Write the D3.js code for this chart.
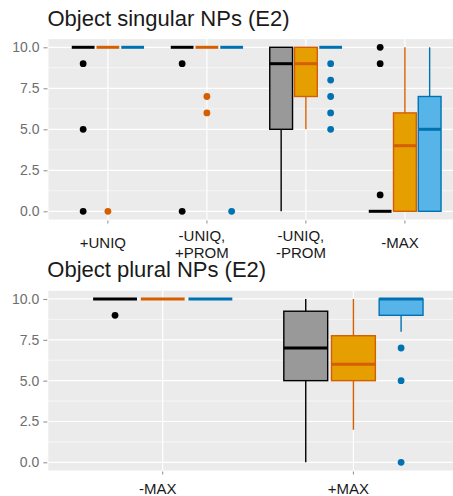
<!DOCTYPE html>
<html>
<head>
<meta charset="utf-8">
<script src="https://cdn.jsdelivr.net/npm/d3@7"></script>
<style>
  body { margin: 0; background: #fff; }
  svg { display: block; font-family: "Liberation Sans", Arial, sans-serif; }
</style>
</head>
<body>
<div id="chart"></div>
<script>
// *** Object NP boxplots (E2) ***

// three series dodged inside every category (no legend in the figure)
const seriesFill = ["#999999", "#E69F00", "#56B4E9"];
const seriesLine = ["#000000", "#D55E00", "#0072B2"];

const yTicks = [0, 2.5, 5, 7.5, 10];
const yMinor = [1.25, 3.75, 6.25, 8.75];

// top panel
const singularCats = ["+UNIQ", "-UNIQ,|+PROM", "-UNIQ,|-PROM", "-MAX"];
// [category, series, lower whisker, q1, median, q3, upper whisker]
const singularBoxes = [
    [0, 0, 10, 10, 10, 10, 10],
    [0, 1, 10, 10, 10, 10, 10],
    [0, 2, 10, 10, 10, 10, 10],
    [1, 0, 10, 10, 10, 10, 10],
    [1, 1, 10, 10, 10, 10, 10],
    [1, 2, 10, 10, 10, 10, 10],
    [2, 0, 0, 5, 9, 10, 10],
    [2, 1, 5, 7, 9, 10, 10],
    [2, 2, 10, 10, 10, 10, 10],
    [3, 0, 0, 0, 0, 0, 0],
    [3, 1, 0, 0, 4, 6, 10],
    [3, 2, 0, 0, 5, 7, 10]
];
// [category, series, value]
const singularOutliers = [
    [0, 0, 9], [0, 0, 5], [0, 0, 0], [0, 1, 0],
    [1, 0, 9], [1, 0, 0], [1, 1, 7], [1, 1, 6], [1, 2, 0],
    [2, 2, 9], [2, 2, 8], [2, 2, 7], [2, 2, 6], [2, 2, 5],
    [3, 0, 10], [3, 0, 9], [3, 0, 1]
];

// bottom panel
const pluralCats = ["-MAX", "+MAX"];
const pluralBoxes = [
    [0, 0, 10, 10, 10, 10, 10],
    [0, 1, 10, 10, 10, 10, 10],
    [0, 2, 10, 10, 10, 10, 10],
    [1, 0, 0, 5, 7, 9.25, 10],
    [1, 1, 2, 5, 6, 7.75, 10],
    [1, 2, 8, 9, 10, 10, 10]
];
const pluralOutliers = [
    [0, 0, 9],
    [1, 2, 7], [1, 2, 5], [1, 2, 0]
];

let svgWidth = 453;
let svgHeight = 496;

let svg = d3.select("#chart")
    .append("svg")
    .attr("width", svgWidth)
    .attr("height", svgHeight);

function drawPanel(p) {
    let g = svg.append("g");

    // panel spans further right than the picture (it is cut off)
    let xScale = d3.scalePoint()
        .domain(d3.range(p.cats.length))
        .range([p.left + 0.6 * p.step, p.left + 0.6 * p.step + (p.cats.length - 1) * p.step]);

    let yScale = d3.scaleLinear()
        .domain([-0.5, 10.5])
        .range([p.bottom, p.top]);

    let dodge = p.step * 0.25;
    let boxW = dodge * 0.92;
    let xPos = (c, s) => xScale(c) + (s - 1) * dodge;

    // title
    g.append("text")
        .attr("x", p.left - 1)
        .attr("y", p.titleY)
        .attr("font-size", "22px")
        .attr("fill", "#1a1a1a")
        .text(p.title);

    // grey panel
    g.append("rect")
        .attr("x", p.left)
        .attr("y", p.top)
        .attr("width", svgWidth - p.left + 20)
        .attr("height", p.bottom - p.top)
        .attr("fill", "#EBEBEB");

    // grid
    g.selectAll(".minor")
        .data(yMinor)
        .enter()
        .append("line")
        .attr("x1", p.left).attr("x2", svgWidth)
        .attr("y1", d => yScale(d)).attr("y2", d => yScale(d))
        .attr("stroke", "#fff")
        .attr("stroke-width", 0.6);

    g.selectAll(".major")
        .data(yTicks)
        .enter()
        .append("line")
        .attr("x1", p.left).attr("x2", svgWidth)
        .attr("y1", d => yScale(d)).attr("y2", d => yScale(d))
        .attr("stroke", "#fff")
        .attr("stroke-width", 1.2);

    g.selectAll(".vgrid")
        .data(d3.range(p.cats.length))
        .enter()
        .append("line")
        .attr("x1", d => xScale(d)).attr("x2", d => xScale(d))
        .attr("y1", p.top).attr("y2", p.bottom)
        .attr("stroke", "#fff")
        .attr("stroke-width", 1.2);

    // y axis
    let leftAxis = d3.axisLeft(yScale)
        .tickValues(yTicks)
        .tickFormat(d3.format(".1f"))
        .tickSize(4)
        .tickPadding(4);

    let yAxis = g.append("g")
        .attr("transform", `translate(${p.left - 1},0)`)
        .call(leftAxis);
    yAxis.select(".domain").remove();
    yAxis.selectAll("line").attr("stroke", "#8a8a8a");
    yAxis.selectAll("text")
        .attr("font-size", "14px")
        .attr("font-family", "Liberation Sans, Arial, sans-serif")
        .attr("fill", "#6e6e6e");

    // x axis ticks and labels
    g.selectAll(".xtick")
        .data(d3.range(p.cats.length))
        .enter()
        .append("line")
        .attr("x1", d => xScale(d)).attr("x2", d => xScale(d))
        .attr("y1", p.bottom + 1).attr("y2", p.bottom + 4)
        .attr("stroke", "#8a8a8a");

    let labels = g.selectAll(".xlab")
        .data(p.cats)
        .enter()
        .append("text")
        .attr("text-anchor", "middle")
        .attr("font-size", "15px")
        .attr("fill", "#1a1a1a");

    labels.each(function(d, i) {
        let lines = d.split("|");
        let base = lines.length > 1 ? p.labelY - 7 : p.labelY;
        lines.forEach((t, k) => {
            d3.select(this).append("tspan")
                .attr("x", xScale(i) - 5)
                .attr("y", base + k * 16.8)
                .text(t);
        });
    });

    // whiskers
    g.selectAll(".whisk")
        .data(p.boxes)
        .enter()
        .append("path")
        .attr("d", d => {
            let x = xPos(d[0], d[1]);
            return `M${x},${yScale(d[2])}V${yScale(d[3])}M${x},${yScale(d[5])}V${yScale(d[6])}`;
        })
        .attr("stroke", d => seriesLine[d[1]])
        .attr("stroke-width", 1.4)
        .attr("fill", "none");

    // boxes
    g.selectAll(".box")
        .data(p.boxes)
        .enter()
        .append("rect")
        .attr("x", d => xPos(d[0], d[1]) - boxW / 2)
        .attr("y", d => yScale(d[5]))
        .attr("width", boxW)
        .attr("height", d => yScale(d[3]) - yScale(d[5]))
        .attr("fill", d => seriesFill[d[1]])
        .attr("stroke", d => seriesLine[d[1]])
        .attr("stroke-width", 1.4);

    // medians
    g.selectAll(".median")
        .data(p.boxes)
        .enter()
        .append("line")
        .attr("x1", d => xPos(d[0], d[1]) - boxW / 2)
        .attr("x2", d => xPos(d[0], d[1]) + boxW / 2)
        .attr("y1", d => yScale(d[4]))
        .attr("y2", d => yScale(d[4]))
        .attr("stroke", d => seriesLine[d[1]])
        .attr("stroke-width", 3);

    // outliers
    g.selectAll(".outlier")
        .data(p.outliers)
        .enter()
        .append("circle")
        .attr("cx", d => xPos(d[0], d[1]))
        .attr("cy", d => yScale(d[2]))
        .attr("r", 3.4)
        .attr("fill", d => seriesLine[d[1]]);
}

drawPanel({
    title: "Object singular NPs (E2)",
    titleY: 26,
    cats: singularCats,
    boxes: singularBoxes,
    outliers: singularOutliers,
    left: 48.5,
    step: 99,
    top: 39.1,
    bottom: 219.5,
    labelY: 248
});

drawPanel({
    title: "Object plural NPs (E2)",
    titleY: 277,
    cats: pluralCats,
    boxes: pluralBoxes,
    outliers: pluralOutliers,
    left: 48.3,
    step: 190.7,
    top: 290.8,
    bottom: 470.5,
    labelY: 494
});
</script>
</body>
</html>
